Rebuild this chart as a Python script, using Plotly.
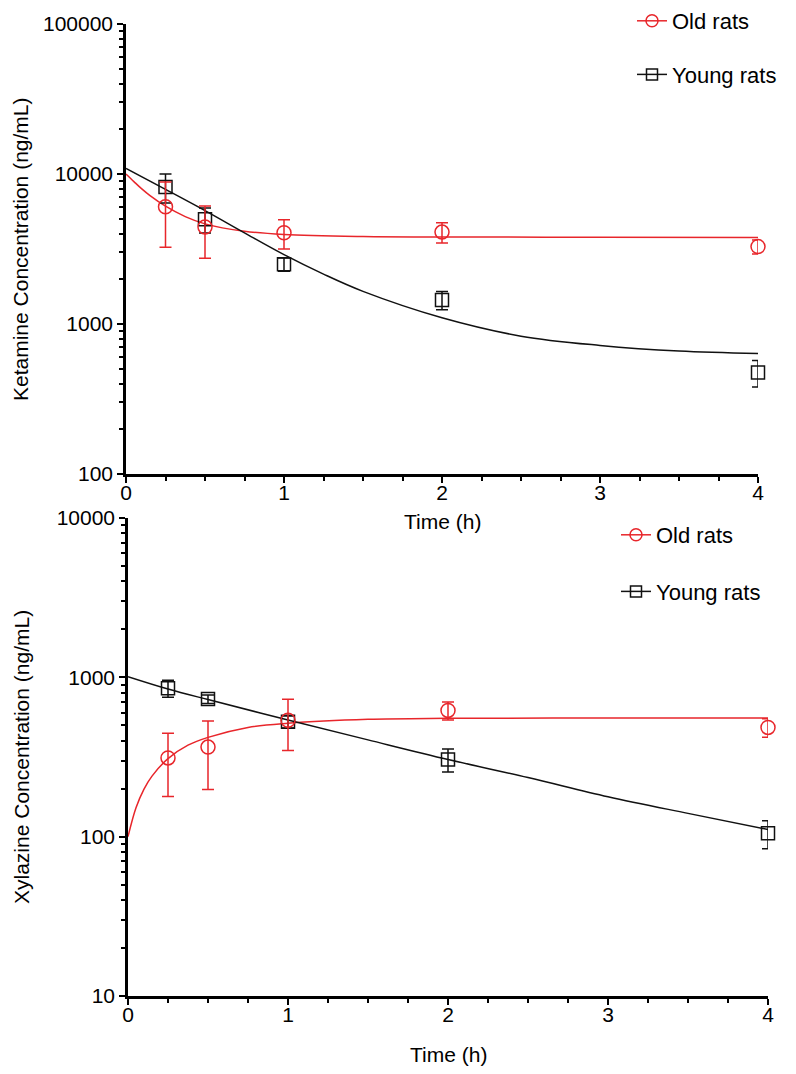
import plotly.graph_objects as go

# ---------------- Data ----------------
time_pts = [0.25, 0.5, 1, 2, 4]

# Ketamine (top)
ket_old_mean = [6050, 4430, 4060, 4100, 3280]
ket_old_sd = [2800, 1690, 900, 630, 350]
ket_young_mean = [8200, 4990, 2500, 1445, 475]
ket_young_sd = [1800, 950, 250, 200, 95]

# Xylazine (bottom)
xyl_old_mean = [312, 365, 538, 620, 485]
xyl_old_sd = [133, 167, 190, 80, 65]
xyl_young_mean = [855, 730, 526, 305, 105]
xyl_young_sd = [105, 45, 45, 50, 21]

# Fitted curves
ket_old_fit_t = [0, 0.05, 0.1, 0.15, 0.25, 0.375, 0.5, 0.75, 1, 1.5, 2, 3, 4]
ket_old_fit_c = [10000, 8900, 7950, 7200, 6100, 5200, 4650, 4150, 3950, 3830, 3800, 3790, 3780]
ket_young_fit_t = [0, 0.25, 0.5, 0.75, 1, 1.25, 1.5, 2, 2.5, 3, 3.5, 4]
ket_young_fit_c = [10900, 7900, 5700, 4050, 2900, 2150, 1650, 1100, 830, 720, 660, 635]

xyl_old_fit_t = [0, 0.05, 0.1, 0.15, 0.25, 0.375, 0.5, 0.75, 1, 1.5, 2, 3, 4]
xyl_old_fit_c = [100, 152, 199, 240, 309, 375, 420, 485, 515, 545, 553, 556, 556]
xyl_young_fit_t = [0, 0.25, 0.5, 1, 1.5, 2, 2.5, 3, 3.5, 4]
xyl_young_fit_c = [1010, 845, 725, 540, 405, 305, 235, 178, 140, 111]

x_ticks = [0, 1, 2, 3, 4]
ket_yticks = [100, 1000, 10000, 100000]
xyl_yticks = [10, 100, 1000, 10000]

RED = "#E8262B"
BLACK = "#111111"
FONT = "Liberation Sans, Arial, Helvetica, sans-serif"

fig = go.Figure()


def add_panel(xa, ya, legend, old_m, old_sd, young_m, young_sd, of_t, of_c, yf_t, yf_c):
    fig.add_trace(go.Scatter(x=of_t, y=of_c, mode="lines", line=dict(color=RED, width=1.5, shape="spline"),
                             xaxis=xa, yaxis=ya, showlegend=False, hoverinfo="skip"))
    fig.add_trace(go.Scatter(x=yf_t, y=yf_c, mode="lines", line=dict(color=BLACK, width=1.5, shape="spline"),
                             xaxis=xa, yaxis=ya, showlegend=False, hoverinfo="skip"))
    fig.add_trace(go.Scatter(x=time_pts, y=young_m, mode="markers",
                             marker=dict(symbol="square-open", size=13, color=BLACK, line=dict(width=1.5)),
                             error_y=dict(type="data", array=young_sd, color=BLACK, thickness=1.5, width=6),
                             xaxis=xa, yaxis=ya, showlegend=False, cliponaxis=False))
    fig.add_trace(go.Scatter(x=time_pts, y=old_m, mode="markers",
                             marker=dict(symbol="circle-open", size=14, color=RED, line=dict(width=1.5)),
                             error_y=dict(type="data", array=old_sd, color=RED, thickness=1.5, width=6),
                             xaxis=xa, yaxis=ya, showlegend=False, cliponaxis=False))
    fig.add_trace(go.Scatter(x=[None], y=[None], mode="lines+markers", name="Old rats",
                             line=dict(color=RED, width=1.5),
                             marker=dict(symbol="circle-open", size=12, color=RED, line=dict(width=1.5)),
                             xaxis=xa, yaxis=ya, legend=legend, legendgroup=legend + "a"))
    fig.add_trace(go.Scatter(x=[None], y=[None], mode="lines+markers", name="Young rats",
                             line=dict(color=BLACK, width=1.5),
                             marker=dict(symbol="square-open", size=11, color=BLACK, line=dict(width=1.5)),
                             xaxis=xa, yaxis=ya, legend=legend, legendgroup=legend + "b"))


add_panel("x", "y", "legend", ket_old_mean, ket_old_sd, ket_young_mean, ket_young_sd,
          ket_old_fit_t, ket_old_fit_c, ket_young_fit_t, ket_young_fit_c)
add_panel("x2", "y2", "legend2", xyl_old_mean, xyl_old_sd, xyl_young_mean, xyl_young_sd,
          xyl_old_fit_t, xyl_old_fit_c, xyl_young_fit_t, xyl_young_fit_c)

# page has an 8px body margin; figure sized to fill the rest of the window
OFF = 8
W, H = 796 - OFF, 1074 - OFF


def px_x(p):
    return (p - OFF) / W


def px_y(p):
    return (H - (p - OFF)) / H


def log_minor(lo, hi):
    vals = []
    for e in range(lo, hi):
        for m in range(2, 10):
            vals.append(m * 10 ** e)
    return vals


xcommon = dict(range=[0, 4], tickvals=x_ticks, ticks="outside", ticklen=6, tickwidth=2, tickcolor="black",
               showline=True, linewidth=2.5, linecolor="black", showgrid=False, zeroline=False, automargin=False,
               tickfont=dict(family=FONT, size=21, color="black"), ticklabelstandoff=-8,
               minor=dict(ticks="outside", ticklen=4, tickwidth=2, tickcolor="black", dtick=0.25, showgrid=False))
ycommon = dict(type="log", ticks="outside", ticklen=6, tickwidth=2, tickcolor="black",
               showline=True, linewidth=2.5, linecolor="black", showgrid=False, zeroline=False, automargin=False,
               exponentformat="none", tickfont=dict(family=FONT, size=21, color="black"))

TITLE_FONT = dict(family=FONT, size=21, color="black")

fig.update_layout(
    width=W, height=H,
    margin=dict(l=0, r=0, t=0, b=0, autoexpand=False),
    paper_bgcolor="white", plot_bgcolor="white",
    font=dict(family=FONT, color="black"),
    xaxis=dict(domain=[px_x(126), px_x(758)], anchor="y", **xcommon),
    yaxis=dict(domain=[px_y(474), px_y(24)], anchor="x", range=[2, 5], tickvals=ket_yticks,
               ticktext=[str(v) for v in ket_yticks],
               minor=dict(ticks="outside", ticklen=4, tickwidth=2, tickcolor="black", showgrid=False,
                          tickmode="array", tickvals=log_minor(2, 5)),
               **ycommon),
    xaxis2=dict(domain=[px_x(128), px_x(768)], anchor="y2", **xcommon),
    yaxis2=dict(domain=[px_y(996), px_y(518)], anchor="x2", range=[1, 4], tickvals=xyl_yticks,
                ticktext=[str(v) for v in xyl_yticks],
                minor=dict(ticks="outside", ticklen=4, tickwidth=2, tickcolor="black", showgrid=False,
                           tickmode="array", tickvals=log_minor(1, 4)),
                **ycommon),
    legend=dict(x=px_x(632), y=px_y(0), xanchor="left", yanchor="top", bgcolor="rgba(0,0,0,0)",
                font=dict(family=FONT, size=22, color="black"), itemwidth=30,
                traceorder="grouped", tracegroupgap=22),
    legend2=dict(x=px_x(616), y=px_y(514), xanchor="left", yanchor="top", bgcolor="rgba(0,0,0,0)",
                 font=dict(family=FONT, size=22, color="black"), itemwidth=30,
                 traceorder="grouped", tracegroupgap=25),
    annotations=[
        dict(text="Time (h)", x=px_x(442), y=px_y(521), xref="paper", yref="paper", showarrow=False,
             font=TITLE_FONT, xanchor="center", yanchor="middle"),
        dict(text="Time (h)", x=px_x(448), y=px_y(1054), xref="paper", yref="paper", showarrow=False,
             font=TITLE_FONT, xanchor="center", yanchor="middle"),
        dict(text="Ketamine Concentration (ng/mL)", x=px_x(20), y=px_y(249), xref="paper", yref="paper",
             showarrow=False, textangle=-90, font=TITLE_FONT, xanchor="center", yanchor="middle"),
        dict(text="Xylazine Concentration (ng/mL)", x=px_x(22), y=px_y(757), xref="paper", yref="paper",
             showarrow=False, textangle=-90, font=TITLE_FONT, xanchor="center", yanchor="middle"),
    ],
)

fig.write_html("out.html")
